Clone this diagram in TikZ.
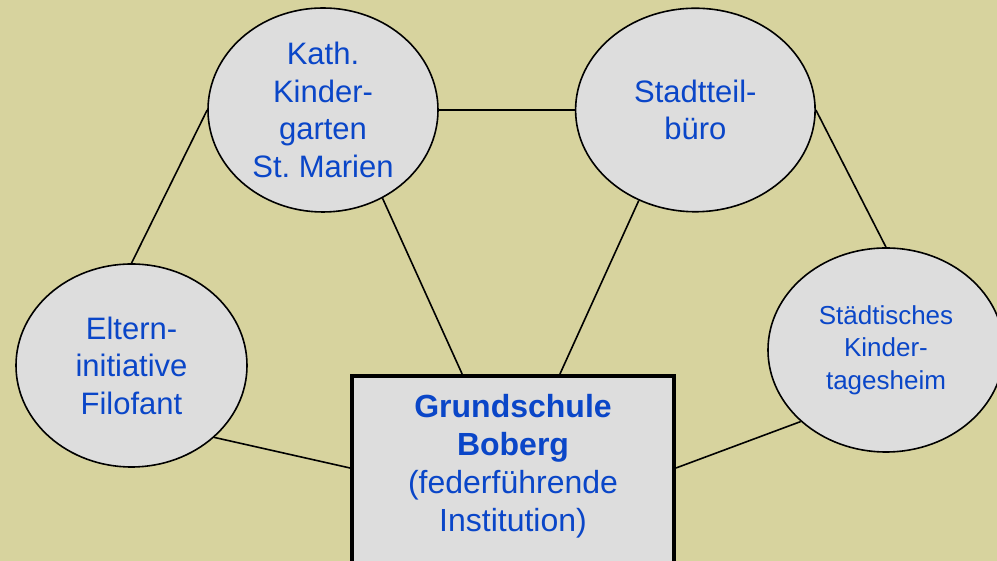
\documentclass[tikz,border=0pt]{standalone}
\usepackage{fontspec}
\setmainfont{Liberation Sans}
\usepackage{xcolor}
\usepackage{tikz}
\usetikzlibrary{calc}
\usetikzlibrary{positioning}
\usetikzlibrary{shapes.geometric}
\definecolor{bgkhaki}{RGB}{215,211,158}
\definecolor{cellgray}{RGB}{221,221,221}
\definecolor{textblue}{RGB}{10,70,200}
\frenchspacing

\begin{document}
\begin{tikzpicture}[x=1pt, y=1pt]

                \def\d{136pt}

                % Looks of the partners, the leading school and the links
                \tikzset{
                    partner/.style={ellipse, draw=black, line width=1.6pt,
                        fill=cellgray, text=textblue, align=center,
                        inner sep=0pt,
                        font=\fontsize{31pt}{37.5pt}\selectfont},
                    lead/.style={rectangle, draw=black, line width=4pt,
                        fill=cellgray, text=textblue, inner xsep=0pt,
                        inner ysep=18pt, minimum width=322pt,
                        font=\fontsize{32pt}{38pt}\selectfont},
                    link/.style={line width=1.6pt}
                }

                % Background of the whole page
                \fill[bgkhaki] (0,0) rectangle (997,561);
                \useasboundingbox (0,0) rectangle (997,561);

                \node[partner, minimum width=230pt, minimum height=204pt]
                (kath) at (323,451)
                {Kath.\\Kinder-\\garten\\St. Marien};
                \node[partner, minimum width=239.5pt, minimum height=203.5pt]
                (stadt) [right=\d of kath]
                {Stadtteil-\\büro};
                \node[partner, minimum width=231pt, minimum height=203pt]
                (eltern) at (131.5,195.5)
                {Eltern-\\initiative\\Filofant};
                \node[partner, minimum width=236pt, minimum height=204pt,
                    font=\fontsize{26pt}{32.5pt}\selectfont]
                (staedt) at (886,211)
                {Städtisches\\Kinder-\\tagesheim};
                \node[lead, anchor=north] (schule) at (513,187)
                {\parbox[t][170pt][t]{300pt}{\centering
                {\bfseries Grundschule\\Boberg}\\(federführende\\Institution)}};

                \begin{scope}[link]
                    \draw (kath.west) -- (eltern.north);
                    \draw (kath.east) -- (stadt.west);
                    \draw (stadt.east) -- (staedt.north);
                    \draw (kath.-56)
                    -- ($(schule.north west)!0.344!(schule.north east)$);
                    \draw (stadt.-122)
                    -- ($(schule.north west)!0.644!(schule.north east)$);
                    \draw (eltern.-41) -- ([yshift=-94pt]schule.north west);
                    \draw (staedt.-140) -- ([yshift=-94pt]schule.north east);
                \end{scope}

\end{tikzpicture}
\end{document}
